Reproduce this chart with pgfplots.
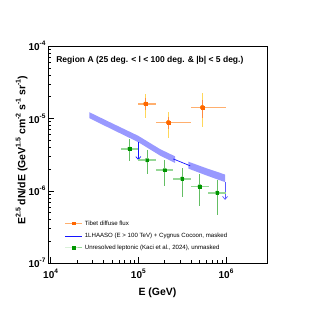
\documentclass[border=0pt]{standalone}
\usepackage{fontspec}
\setmainfont{Liberation Sans}
\usepackage{pgfplots}
\pgfplotsset{compat=1.18}
\usetikzlibrary{arrows.meta}
\definecolor{tibOr}{RGB}{255,102,0}
\definecolor{tibLt}{RGB}{255,175,110}
\definecolor{tibYe}{RGB}{255,215,90}
\definecolor{kGr}{RGB}{0,150,0}
\definecolor{kLt}{RGB}{150,215,150}
\definecolor{kMd}{RGB}{100,190,100}
\definecolor{bandB}{RGB}{135,135,255}
\definecolor{lhblue}{RGB}{20,20,255}
\definecolor{arrB}{RGB}{90,90,255}
\newcommand\tsup[1]{\raisebox{0.5em}{\fontsize{6.5}{7}\selectfont #1}}
\newcommand\lsup[1]{\raisebox{0.45em}{\fontsize{7}{7}\selectfont #1}}

\pgfplotstableread{
x y xp xm yp ym yip yim
1.21e5 1.59e-5 0.37e5 0.21e5 0.57e-5 0.57e-5 0.30e-5 0.30e-5
2.2e5 8.8e-6 1.78e5 0.62e5 3.3e-6 3.5e-6 1.7e-6 1.7e-6
5.37e5 1.42e-5 4.63e5 1.39e5 0.79e-5 0.66e-5 0.40e-5 0.40e-5
}\tibet

\pgfplotstableread{
x y xp xm yp ym
7.94e4 3.81e-6 2.06e4 1.64e4 1.43e-6 1.26e-6
1.26e5 2.66e-6 0.34e5 0.26e5 0.96e-6 0.94e-6
2.0e5 1.94e-6 0.51e5 0.41e5 0.72e-6 0.77e-6
3.16e5 1.47e-6 0.82e5 0.66e5 0.61e-6 0.64e-6
5.01e5 1.15e-6 1.30e5 1.03e5 0.54e-6 0.53e-6
7.94e5 9.4e-7 2.06e5 1.64e5 4.7e-7 4.7e-7
}\kaci

\begin{document}
\begin{tikzpicture}
\path[use as bounding box] (-48pt,-46.7pt) rectangle (267pt,263.3pt);
\begin{axis}[
  scale only axis,
  width=219pt, height=217.3pt,
  xmode=log, ymode=log,
  xmin=9.34e3, xmax=2.93e6,
  ymin=1e-7, ymax=1e-4,
  axis line style={line width=0.8pt},
  xtick={1e4,1e5,1e6},
  xticklabels={10\tsup{4},10\tsup{5},10\tsup{6}},
  ytick={1e-7,1e-6,1e-5,1e-4},
  yticklabels={10\tsup{-7},10\tsup{-6},10\tsup{-5},10\tsup{-4}},
  xtick pos=bottom, ytick pos=left,
  tick align=inside,
  major tick length=6pt, minor tick length=3pt,
  tick style={line width=0.6pt, black},
  ticklabel style={font=\bfseries\fontsize{10}{12}\selectfont},
  xticklabel style={yshift=-2pt},
  yticklabel style={xshift=1pt},
  xlabel={E (GeV)},
  ylabel={E\lsup{2.5} dN/dE (GeV\lsup{1.5} cm\lsup{-2} s\lsup{-1} sr\lsup{-1})},
  label style={font=\bfseries\fontsize{10.5}{12}\selectfont},
  xlabel style={at={(axis description cs:0.5,-0.137)}, anchor=center},
  ylabel style={at={(axis description cs:-0.12,0.52)}, anchor=center},
  legend style={draw=none, fill=none, font=\fontsize{6.1}{7}\selectfont,
    at={(axis description cs:0.062,0.215)}, anchor=north west, row sep=2.2pt},
  legend cell align=left,
]
\addlegendimage{tibLt, line width=1pt, mark=square*, mark size=1.2pt, mark options={draw=tibOr, fill=tibOr}}
\addlegendentry{Tibet diffuse flux}
\addlegendimage{lhblue, line width=0.7pt, -}
\addlegendentry{1LHAASO (E > 100 TeV) + Cygnus Cocoon, masked}
\addlegendimage{kLt, line width=1pt, mark=square*, mark size=1.2pt, mark options={draw=kGr, fill=kGr}}
\addlegendentry{Unresolved leptonic (Kaci et al., 2024), unmasked}

% band pieces
\addplot[forget plot, draw=none, fill=bandB, fill opacity=0.85] coordinates {
(2.76e4,1.22e-5) (5e4,8.6e-6) (1e5,5.75e-6) (1.77e5,3.77e-6) (2.62e5,3.0e-6)
(2.62e5,2.43e-6) (1.77e5,3.07e-6) (1e5,4.70e-6) (5e4,7.08e-6) (2.76e4,1.01e-5)} --cycle;
\addplot[forget plot, draw=none, fill=bandB, fill opacity=0.85] coordinates {
(3.72e5,2.53e-6) (6e5,2.05e-6) (9.75e5,1.68e-6)
(9.75e5,1.32e-6) (6e5,1.63e-6) (3.72e5,2.03e-6)} --cycle;
% central line, visible where the band is masked
\addplot[forget plot, lhblue, line width=0.7pt] coordinates {
(2.5e5,2.76e-6) (2.62e5,2.7e-6) (3.72e5,2.27e-6) (3.9e5,2.22e-6)};
% upper-limit arrows
\addplot[forget plot, lhblue, line width=0.7pt, -{Straight Barb[length=3pt,width=5pt]}] coordinates {(1e5,4.7e-6) (1e5,2.66e-6)};
\addplot[forget plot, arrB, line width=0.7pt, -{Straight Barb[length=3pt,width=5pt]}] coordinates {(9.75e5,1.32e-6) (9.75e5,7.5e-7)};

% Kaci et al.
\addplot[forget plot, kLt, only marks, mark=none,
  error bars/.cd, x dir=both, x explicit, error mark=none,
  error bar style={draw=kLt, line width=1.8pt}]
  table[x=x, y=y, x error plus=xp, x error minus=xm] {\kaci};
\addplot[forget plot, kMd, only marks, mark=none,
  error bars/.cd, y dir=both, y explicit, error mark=none,
  error bar style={draw=kMd, line width=1.1pt}]
  table[x=x, y=y, y error plus=yp, y error minus=ym] {\kaci};
\addplot[forget plot, only marks, mark=square*, mark size=1.3pt, kGr, mark options={draw=kGr, fill=kGr}]
  table[x=x, y=y] {\kaci};

% Tibet
\addplot[forget plot, tibLt, only marks, mark=none,
  error bars/.cd, x dir=both, x explicit, error mark=none,
  error bar style={draw=tibLt, line width=1.6pt}]
  table[x=x, y=y, x error plus=xp, x error minus=xm] {\tibet};
\addplot[forget plot, tibYe, only marks, mark=none,
  error bars/.cd, y dir=both, y explicit, error mark=none,
  error bar style={draw=tibYe, line width=1.1pt}]
  table[x=x, y=y, y error plus=yp, y error minus=ym] {\tibet};
\addplot[forget plot, tibOr, only marks, mark=none,
  error bars/.cd, y dir=both, y explicit, error mark=none,
  error bar style={draw=tibOr!75, line width=1.1pt}]
  table[x=x, y=y, y error plus=yip, y error minus=yim] {\tibet};
\addplot[forget plot, only marks, mark=square*, mark size=1.4pt, tibOr, mark options={draw=tibOr, fill=tibOr}]
  table[x=x, y=y] {\tibet};

\node[anchor=west, font=\bfseries\fontsize{8.5}{9}\selectfont] at (axis description cs:0.022,0.934)
  {Region A (25 deg. < l < 100 deg. \& |b| < 5 deg.)};
\end{axis}
\end{tikzpicture}
\end{document}
